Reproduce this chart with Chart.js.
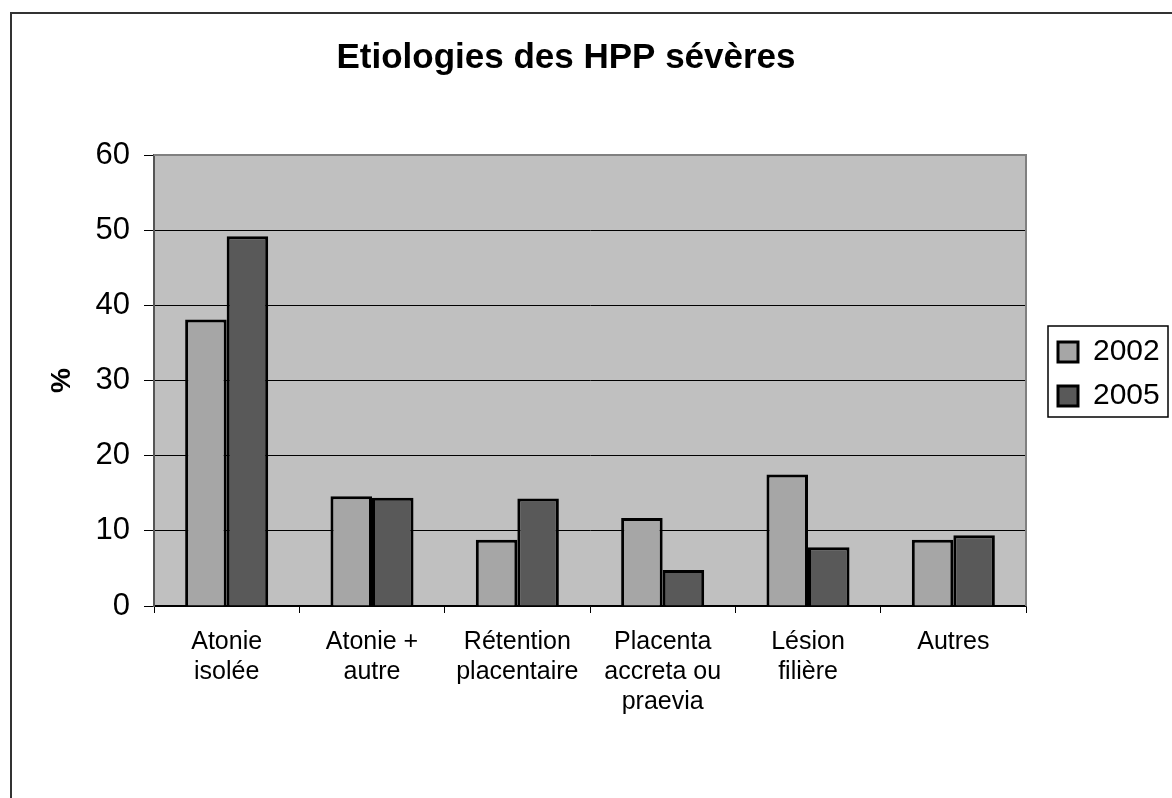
<!DOCTYPE html>
<html>
<head>
<meta charset="utf-8">
<script src="https://cdn.jsdelivr.net/npm/chart.js@4"></script>
<style>
  html, body { margin: 0; padding: 0; background: #fff; }
  .page { position: absolute; left: 10px; top: 12px; width: 1200px; height: 820px;
          border-top: 2px solid #333; border-left: 2px solid #333; }
  #chart { position: absolute; left: 0; top: 0; }
</style>
</head>
<body>
<div class="page"></div>
<canvas id="chart" width="1172" height="798"></canvas>
<script>
// Données
const categories = [
    ['Atonie', 'isolée'],
    ['Atonie +', 'autre'],
    ['Rétention', 'placentaire'],
    ['Placenta', 'accreta ou', 'praevia'],
    ['Lésion', 'filière'],
    ['Autres']
];
const values2002 = [38.1, 14.6, 8.8, 11.7, 17.5, 8.8];
const values2005 = [49.2, 14.4, 14.3, 4.8, 7.8, 9.4];
const yTicks = [0, 10, 20, 30, 40, 50, 60];

const FONT = 'Liberation Sans, Arial, sans-serif';

// Fond gris + cadre de la zone de tracé, cadre de la légende
const plotFrame = {
    id: 'plotFrame',
    afterLayout(chart) {
        const lg = chart.legend;
        lg.left += 18;
        lg.right = chart.width;
        lg.width = lg.right - lg.left;
        lg.top -= 6.5; lg.bottom -= 6.5;
    },
    beforeDraw(chart) {
        const { ctx, chartArea: a } = chart;
        ctx.save();
        ctx.fillStyle = '#c0c0c0';
        ctx.fillRect(a.left, a.top, a.right - a.left, a.bottom - a.top);
        ctx.restore();
    },
    beforeDatasetsDraw(chart) {
        const { ctx, chartArea: a } = chart;
        ctx.save();
        ctx.strokeStyle = '#808080';
        ctx.lineWidth = 2;
        ctx.beginPath();
        ctx.moveTo(a.left, a.top);
        ctx.lineTo(a.right, a.top);
        ctx.lineTo(a.right, a.bottom);
        ctx.stroke();
        ctx.restore();
    },
    afterDraw(chart) {
        const hb = chart.legend.legendHitBoxes;
        if (!hb || !hb.length) return;
        const { ctx } = chart;
        const last = hb[hb.length - 1];
        const x0 = hb[0].left - 10, y0 = hb[0].top - 11;
        const y1 = last.top + last.height + 6;
        ctx.save();
        ctx.strokeStyle = '#000';
        ctx.lineWidth = 1.5;
        ctx.strokeRect(x0, y0, 120, y1 - y0);
        ctx.restore();
    }
};

new Chart(document.getElementById('chart'), {
    type: 'bar',
    data: {
        labels: categories,
        datasets: [{
            label: '2002',
            data: values2002,
            backgroundColor: '#a6a6a6',
            borderColor: '#000',
            borderWidth: 3
        }, {
            label: '2005',
            data: values2005,
            backgroundColor: '#595959',
            borderColor: '#000',
            borderWidth: 3
        }]
    },
    options: {
        responsive: false,
        animation: false,
        devicePixelRatio: 1,
        layout: { padding: { left: 0, right: 40, top: 0, bottom: 0 } },
        datasets: {
            bar: { categoryPercentage: 2 / 3.5, barPercentage: 1 }
        },
        plugins: {
            title: {
                display: true,
                text: 'Etiologies des HPP sévères',
                color: '#000',
                font: { family: FONT, size: 35, weight: 'bold', lineHeight: 1.2 },
                padding: { top: 37, bottom: 76 }
            },
            legend: {
                position: 'right',
                fullSize: false,
                maxWidth: 106,
                labels: {
                    color: '#000',
                    boxWidth: 20,
                    boxHeight: 20,
                    padding: 14,
                    font: { family: FONT, size: 30 }
                }
            },
            tooltip: { enabled: false }
        },
        scales: {
            x: {
                afterFit(scale) { scale.height = 192; },
                grid: {
                    display: true,
                    drawOnChartArea: false,
                    drawTicks: true,
                    tickLength: 7,
                    tickColor: '#000',
                    offset: true
                },
                border: { display: true, color: '#000', width: 1.5 },
                ticks: {
                    color: '#000',
                    padding: 14,
                    maxRotation: 0,
                    autoSkip: false,
                    font: { family: FONT, size: 25, lineHeight: 1.2 }
                }
            },
            y: {
                min: yTicks[0],
                max: yTicks[yTicks.length - 1],
                afterFit(scale) { scale.width = 154; },
                afterBuildTicks(scale) {
                    scale.ticks = yTicks.map(v => ({ value: v }));
                },
                grid: {
                    color: '#000',
                    lineWidth: 1,
                    tickLength: 10,
                    tickColor: '#000'
                },
                border: { display: true, color: '#555', width: 2 },
                ticks: {
                    color: '#000',
                    padding: 14,
                    font: { family: FONT, size: 31 }
                },
                title: {
                    display: true,
                    text: '%',
                    color: '#000',
                    font: { family: FONT, size: 28, weight: 'bold', lineHeight: 1.2 },
                    padding: { top: 45, bottom: 0 }
                }
            }
        }
    },
    plugins: [plotFrame]
});
</script>
</body>
</html>
